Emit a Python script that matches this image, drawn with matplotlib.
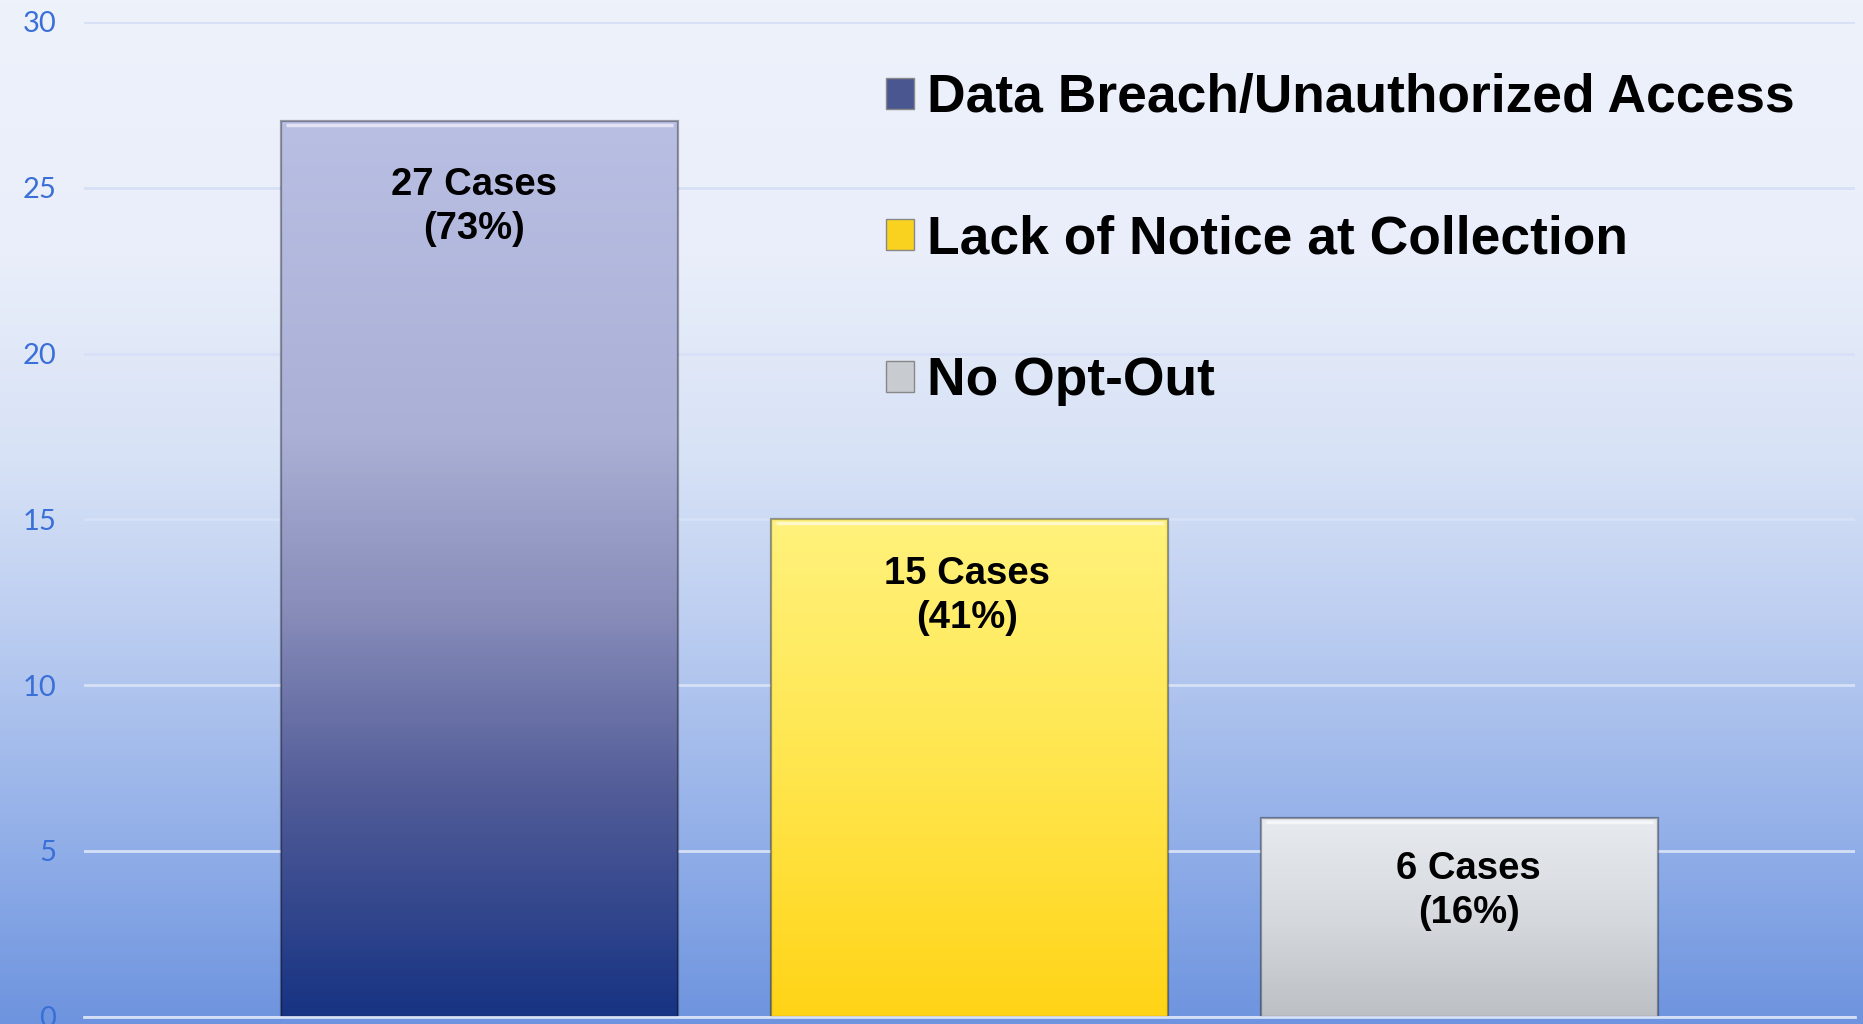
import numpy as np
import matplotlib
matplotlib.use('Agg')
import matplotlib.pyplot as plt
from matplotlib.colors import LinearSegmentedColormap
from matplotlib.patches import Patch, Rectangle

# datos del grafico
categorias = ['Data Breach/Unauthorized Access', 'Lack of Notice at Collection', 'No Opt-Out']
casos = [27, 15, 6]
porcentajes = [73, 41, 16]
y_ticks = [0, 5, 10, 15, 20, 25, 30]

# degradados (arriba -> abajo)
grad_barras = [
    [(0.0, '#B9BEE3'), (0.35, '#ABB0D6'), (0.55, '#878CB9'), (0.75, '#525C98'), (1.0, '#173383')],
    [(0.0, '#FFF27C'), (0.5, '#FFE64E'), (1.0, '#FFD416')],
    [(0.0, '#E7EAEF'), (0.5, '#D6D9DE'), (1.0, '#BCC0C5')],
]
color_leyenda = ['#4A5690', '#F8D21E', '#C8CBCF']
grad_fondo = [(0.0, '#EEF2FB'), (0.25, '#E9EEFA'), (0.45, '#D7E2F6'), (0.6, '#BECFF1'),
              (0.8, '#96B2E9'), (1.0, '#6E94DF')]

fig = plt.figure(figsize=(18.63, 10.24), dpi=100)

# fondo con degradado
ax_bg = fig.add_axes([0, 0, 1, 1], zorder=0)
cmap_bg = LinearSegmentedColormap.from_list('bg', grad_fondo)
ax_bg.imshow(np.linspace(0, 1, 256).reshape(-1, 1), cmap=cmap_bg, aspect='auto',
             extent=(0, 1, 0, 1), origin='upper')
ax_bg.set_axis_off()

ax = fig.add_axes([84 / 1863, 7.3 / 1024, 1771 / 1863, 994.7 / 1024], zorder=1)
ax.set_facecolor('none')

x = np.arange(len(casos))
ancho = 0.81
barras = ax.bar(x, casos, width=ancho, color='none', edgecolor='none', zorder=2)

for i, b in enumerate(barras):
    x0, w, h = b.get_x(), b.get_width(), b.get_height()
    cmap = LinearSegmentedColormap.from_list('b%d' % i, grad_barras[i])
    im = ax.imshow(np.linspace(0, 1, 256).reshape(-1, 1), cmap=cmap, aspect='auto',
                   extent=(x0, x0 + w, 0, h), origin='upper', zorder=2)
    # borde tipo bisel
    ax.add_patch(Rectangle((x0, 0), w, h, fill=False, edgecolor=(0, 0, 0, 0.35),
                           linewidth=1.6, zorder=3))
    ax.plot([x0 + 0.01, x0 + w - 0.01], [h - 0.12, h - 0.12], color='white',
            alpha=0.6, linewidth=2.5, zorder=3, solid_capstyle='butt')

# etiquetas dentro de las barras (desplazamiento en px)
desplaz_y = [48, 39, 36]
desplaz_x = [-5, -2, 9]
for i, b in enumerate(barras):
    ax.annotate('%d Cases\n(%d%%)' % (casos[i], porcentajes[i]),
                xy=(b.get_x() + b.get_width() / 2, b.get_height()),
                xytext=(desplaz_x[i] * 0.72, -desplaz_y[i] * 0.72 + 2), textcoords='offset points',
                ha='center', va='top', fontsize=27.5, fontweight='bold',
                family='Liberation Sans', linespacing=1.3, zorder=4)

ax.set_xlim(-0.807, 2.807)
ax.set_ylim(0, 30)
ax.set_yticks(y_ticks)
ax.set_xticks([])
ax.yaxis.grid(True, color='#D6E0F6', linewidth=2)
ax.set_axisbelow(True)
for s in ['left', 'right', 'top']:
    ax.spines[s].set_visible(False)
ax.spines['bottom'].set_color('#D6E0F6')
ax.spines['bottom'].set_linewidth(2)
ax.spines['bottom'].set_zorder(5)
ax.tick_params(axis='y', length=0, pad=20, labelcolor='#3A6FD8', labelsize=21)
for t in ax.get_yticklabels():
    t.set_family('Lato')

handles = [Patch(facecolor=c, edgecolor='#888888', linewidth=1) for c in color_leyenda]
leg = ax.legend(handles, categorias, loc='upper left', bbox_to_anchor=(886 / 1863, 1 - 73 / 1024),
                bbox_transform=fig.transFigure, frameon=False, borderpad=0, borderaxespad=0,
                handlelength=0.52, handleheight=0.52, handletextpad=0.25, labelspacing=1.72,
                prop={'family': 'Liberation Sans', 'weight': 'bold', 'size': 38.4})

fig.savefig('out.png', dpi=100)
